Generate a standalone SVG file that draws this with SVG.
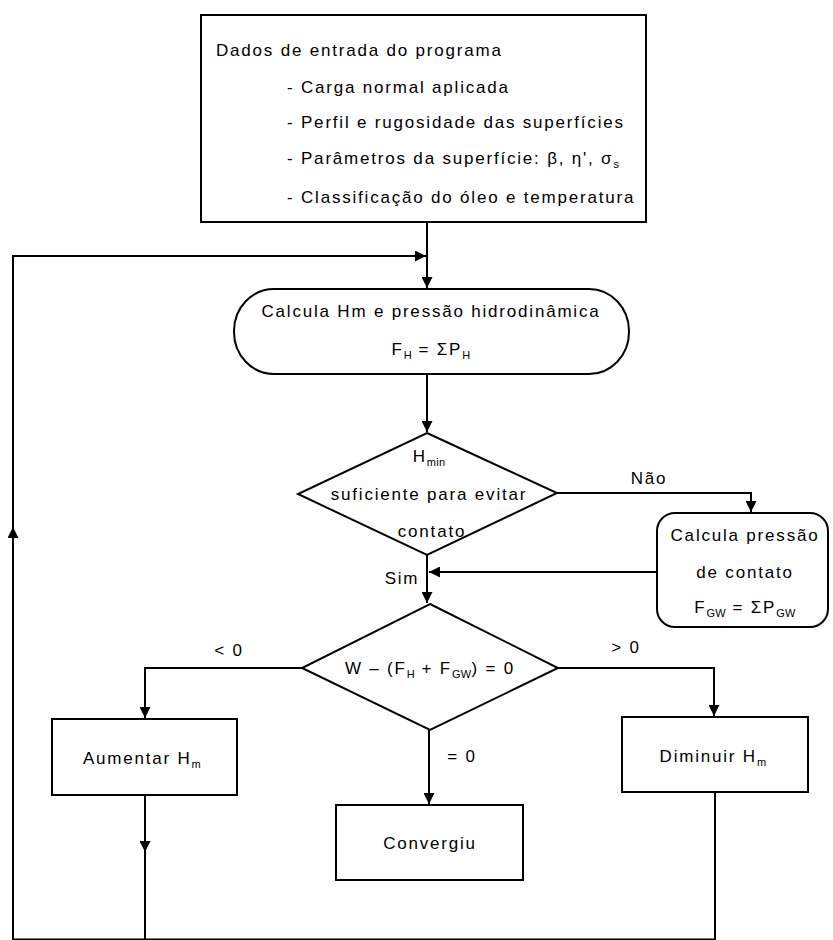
<svg xmlns="http://www.w3.org/2000/svg" width="833" height="940" viewBox="0 0 833 940">
<defs>
<style>
.ln{fill:none;stroke:#000;stroke-width:2}
.box{fill:#fff;stroke:#000;stroke-width:2}
text{font-family:"Liberation Sans",Arial,sans-serif;font-size:17px;letter-spacing:1.8px;fill:#000}
.c{text-anchor:middle}
.sub{font-size:11px;letter-spacing:0.3px}
</style>
<marker id="ah" viewBox="0 0 10 10" refX="10" refY="5" markerWidth="11" markerHeight="11" markerUnits="userSpaceOnUse" orient="auto">
<path d="M0,0 L10,5 L0,10 z" fill="#000"/>
</marker>
</defs>
<rect width="833" height="940" fill="#fff"/>

<g id="connectors">
<path class="ln" d="M427,222 V288" marker-end="url(#ah)"/>
<path class="ln" d="M13,940 V527" marker-end="url(#ah)"/>
<path class="ln" d="M13,528 V256 H426" marker-end="url(#ah)"/>
<path class="ln" d="M427,374 V432" marker-end="url(#ah)"/>
<path class="ln" d="M557,493 H751 V512" marker-end="url(#ah)"/>
<path class="ln" d="M657,572 H429" marker-end="url(#ah)"/>
<path class="ln" d="M427,555 V603" marker-end="url(#ah)"/>
<path class="ln" d="M302,668 H145 V718" marker-end="url(#ah)"/>
<path class="ln" d="M558,668 H714 V716" marker-end="url(#ah)"/>
<path class="ln" d="M429,730 V804" marker-end="url(#ah)"/>
<path class="ln" d="M145,795 V852" marker-end="url(#ah)"/>
<path class="ln" d="M145,850 V940"/>
<path class="ln" d="M715,792 V940"/>
<path class="ln" d="M13,939.5 H715" stroke="#bbb" stroke-width="1"/>
<text x="649" y="484" class="c">Não</text>
<text x="402" y="584" class="c">Sim</text>
<text x="229" y="656" class="c">&lt; 0</text>
<text x="626" y="653" class="c">&gt; 0</text>
<text x="462" y="762" class="c">= 0</text>
</g>

<g id="input">
<rect class="box" x="201" y="15" width="445" height="207"/>
<text x="216" y="56">Dados de entrada do programa</text>
<text x="287" y="93">- Carga normal aplicada</text>
<text x="287" y="128">- Perfil e rugosidade das superfícies</text>
<text x="287" y="164">- Parâmetros da superfície: β, η', σ<tspan class="sub" dy="4">s</tspan></text>
<text x="287" y="203">- Classificação do óleo e temperatura</text>
</g>

<g id="calc-h">
<rect class="box" x="234" y="289" width="395" height="85" rx="40" ry="42"/>
<text x="431" y="317" class="c">Calcula Hm e pressão hidrodinâmica</text>
<text x="431" y="355" class="c">F<tspan class="sub" dy="4">H</tspan><tspan dy="-4"> = ΣP</tspan><tspan class="sub" dy="4">H</tspan></text>
</g>

<g id="check-hmin">
<polygon class="box" points="427,433 557,493 427,555 298,494"/>
<text x="429" y="462" class="c">H<tspan class="sub" dy="4">min</tspan></text>
<text x="429" y="500" class="c">suficiente para evitar</text>
<text x="432" y="537" class="c">contato</text>
</g>

<g id="calc-contact">
<rect class="box" x="657" y="513" width="171" height="114" rx="18"/>
<text x="745" y="541" class="c">Calcula pressão</text>
<text x="745" y="578" class="c">de contato</text>
<text x="745" y="613" class="c">F<tspan class="sub" dy="4">GW</tspan><tspan dy="-4"> = ΣP</tspan><tspan class="sub" dy="4">GW</tspan></text>
</g>

<g id="balance">
<polygon class="box" points="430,604 558,668 430,730 302,668"/>
<text x="430" y="674" class="c">W – (F<tspan class="sub" dy="4">H</tspan><tspan dy="-4"> + F</tspan><tspan class="sub" dy="4">GW</tspan><tspan dy="-4">) = 0</tspan></text>
</g>

<g id="increase">
<rect class="box" x="52" y="719" width="185" height="76"/>
<text x="142" y="764" class="c">Aumentar H<tspan class="sub" dy="4">m</tspan></text>
</g>

<g id="decrease">
<rect class="box" x="622" y="717" width="186" height="75"/>
<text x="713" y="762" class="c">Diminuir H<tspan class="sub" dy="4">m</tspan></text>
</g>

<g id="converged">
<rect class="box" x="336" y="805" width="187" height="75"/>
<text x="430" y="849" class="c">Convergiu</text>
</g>
</svg>
